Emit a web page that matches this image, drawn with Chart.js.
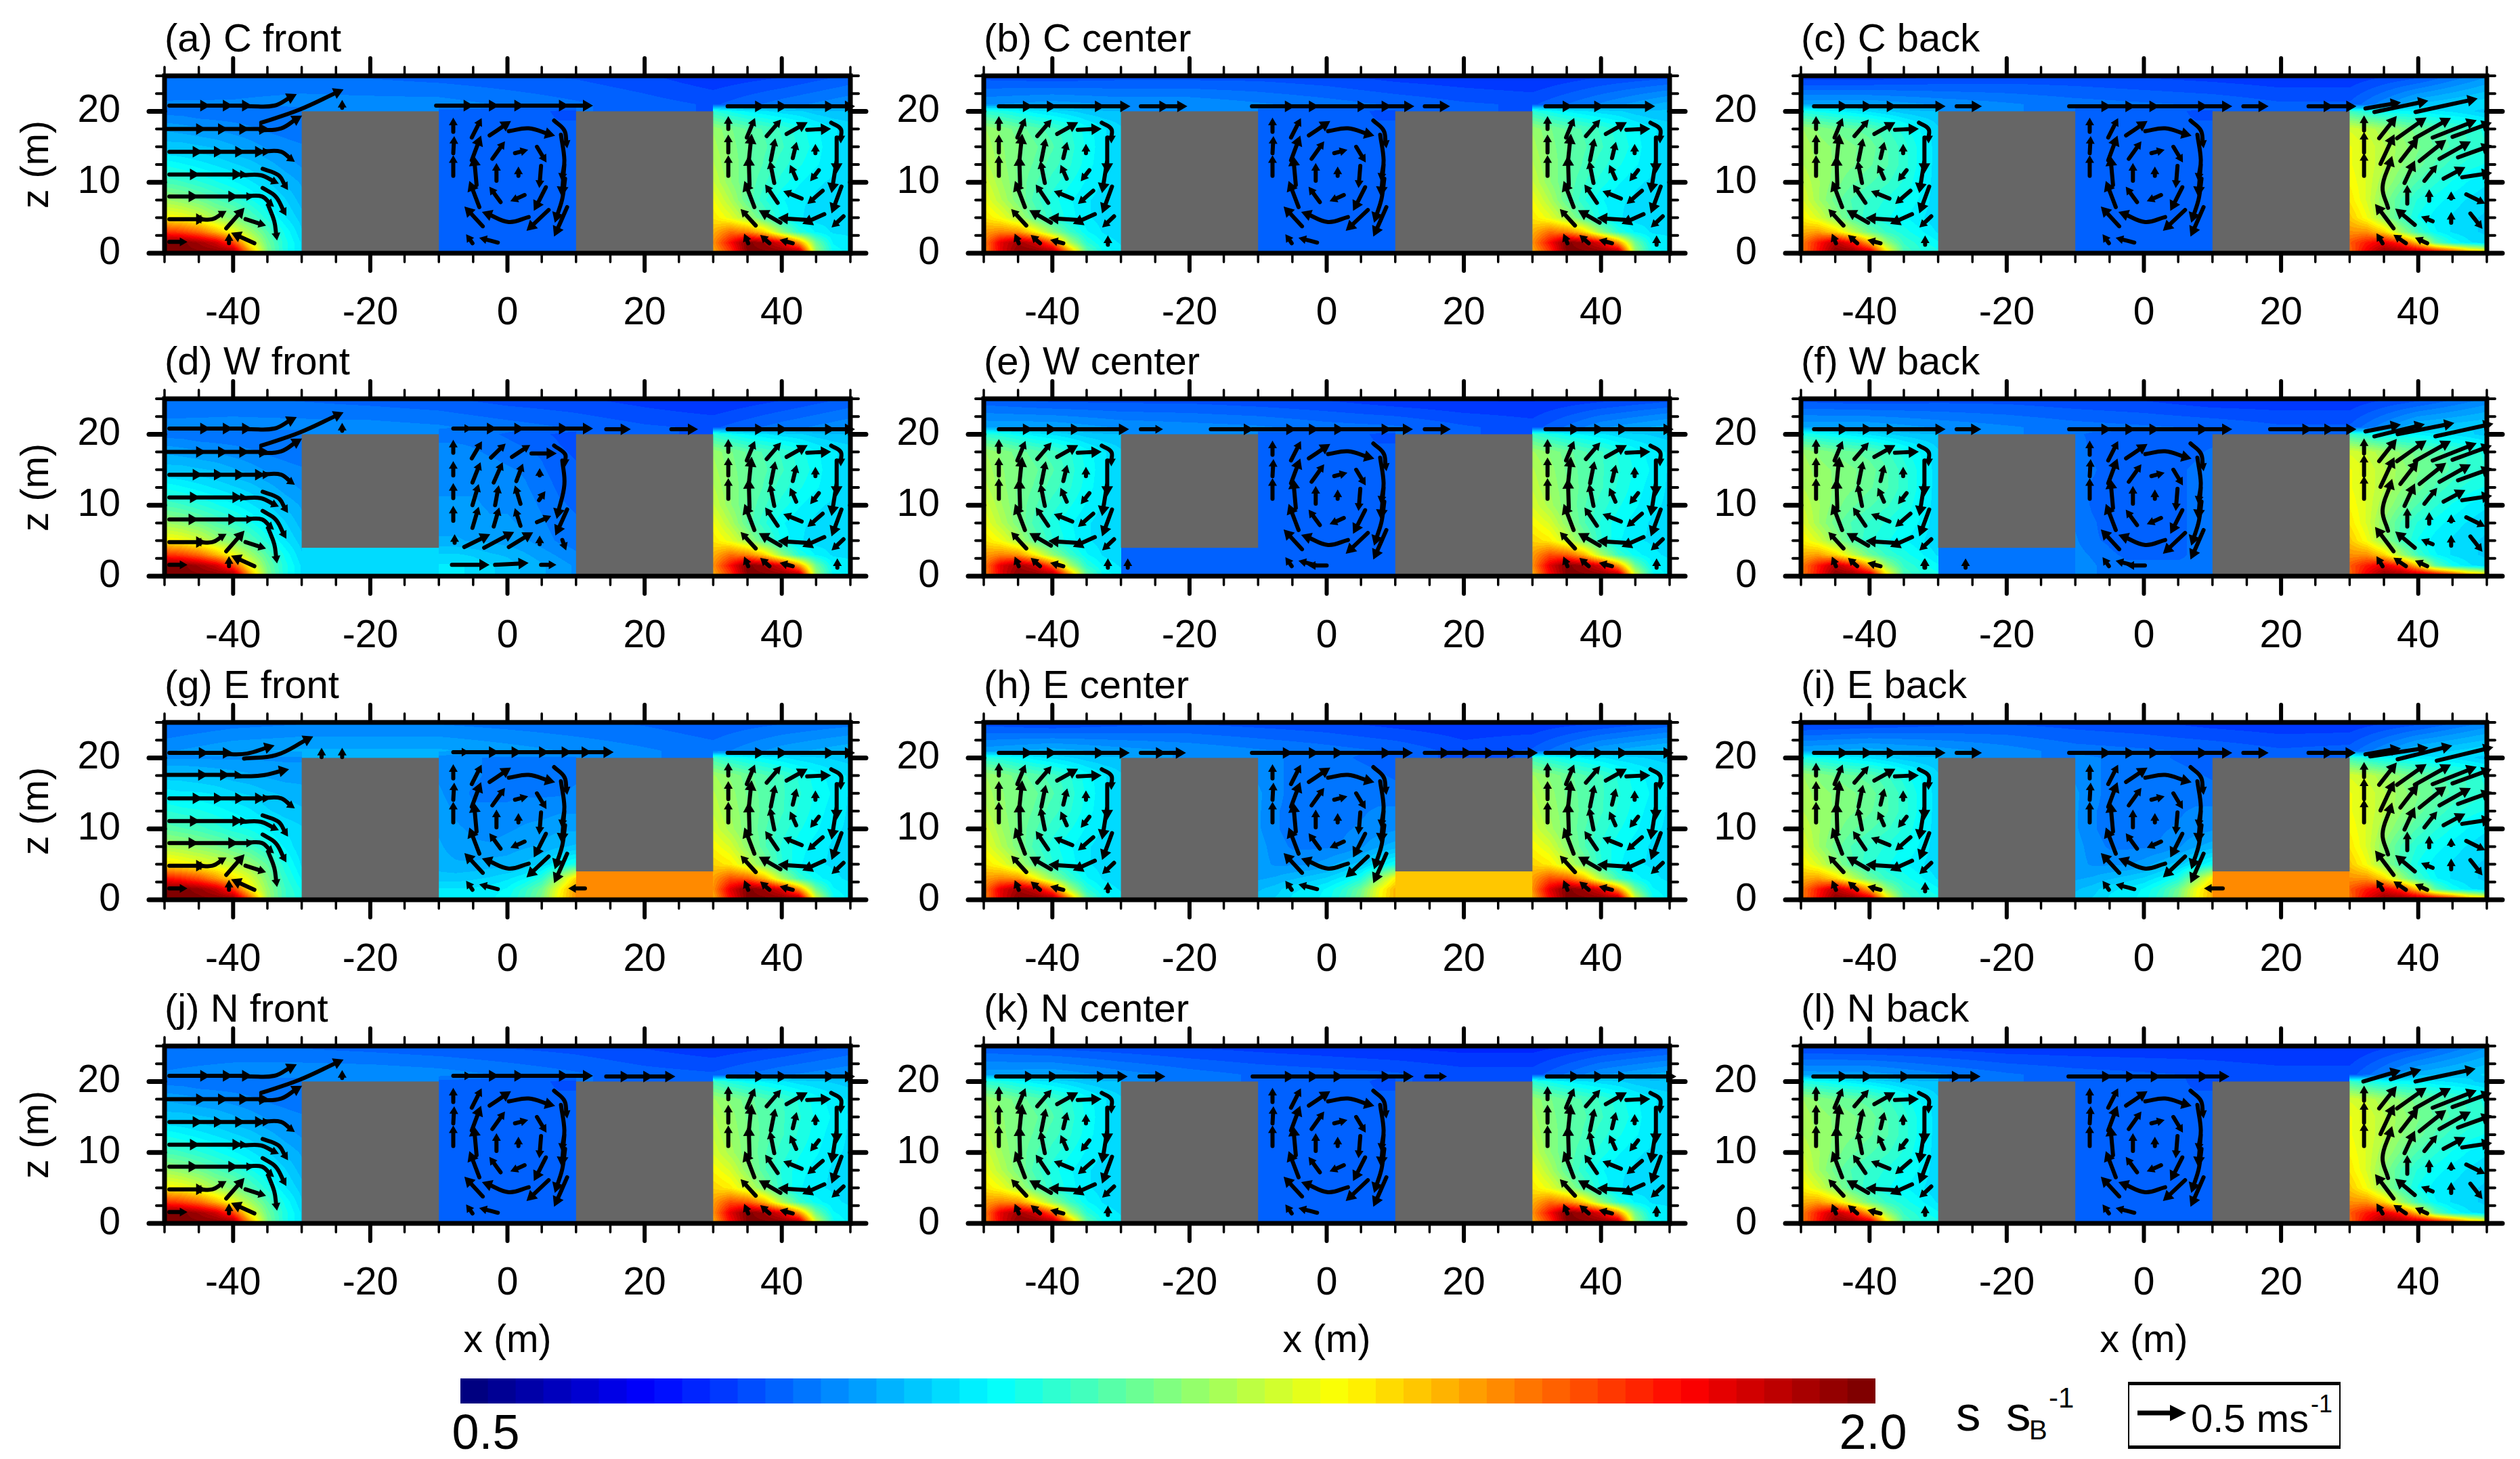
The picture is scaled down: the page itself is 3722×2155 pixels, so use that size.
<!DOCTYPE html>
<html>
<head>
<meta charset="utf-8">
<title>s/sB canyon panels</title>
<script src="https://cdn.jsdelivr.net/npm/chart.js@4"></script>
<style>
    html, body { margin: 0; background: #fff; }
    #page { position: relative; width: 3722px; height: 2155px; overflow: hidden; font-family: "Liberation Sans", sans-serif; color: #000; }
    canvas { position: absolute; }
    .txt { position: absolute; line-height: 1; white-space: pre; }
    #arrowBox { position: absolute; left: 3143px; top: 2041px; width: 310px; height: 89px; border: solid #000; border-width: 5px 2px; }
</style>
</head>
<body>
<div id="page">
    <div class="txt" style="left:2889px;top:2051px;font-size:73px">s</div>
    <div class="txt" style="left:2963px;top:2051px;font-size:73px">s</div>
    <div class="txt" style="left:2997px;top:2092px;font-size:40px">B</div>
    <div class="txt" style="left:3026px;top:2044px;font-size:42px">-1</div>
    <div id="arrowBox"></div>
    <svg style="position:absolute;left:3155px;top:2070px" width="76" height="36"><path d="M2 17H58" stroke="#000" stroke-width="7"/><path d="M50 5L74 17L50 29Z" fill="#000"/></svg>
    <div class="txt" style="left:3236px;top:2066px;font-size:58px">0.5 ms</div>
    <div class="txt" style="left:3413px;top:2056px;font-size:36px">-1</div>
</div>
<script>
// panel labels, row by row
const panelTitles = ["(a) C front", "(b) C center", "(c) C back", "(d) W front", "(e) W center", "(f) W back",
    "(g) E front", "(h) E center", "(i) E back", "(j) N front", "(k) N center", "(l) N back"];

const xMajorTicks = [-40, -20, 0, 20, 40];
const xMinorTicks = [-50, -45, -35, -30, -25, -15, -10, -5, 5, 10, 15, 25, 30, 35, 45, 50];
const zMajorTicks = [0, 10, 20];
const zMinorTicks = [2.5, 5, 7.5, 12.5, 15, 17.5, 22.5, 25];

// colour bar levels
const colorLevels = [0.50, 0.53, 0.56, 0.59, 0.62, 0.65, 0.68, 0.71, 0.74, 0.77, 0.80, 0.83, 0.86, 0.89, 0.92, 0.95, 0.98,
    1.01, 1.04, 1.07, 1.10, 1.13, 1.16, 1.19, 1.22, 1.25, 1.28, 1.31, 1.34, 1.37, 1.40, 1.43, 1.46, 1.49, 1.52, 1.55, 1.58,
    1.61, 1.64, 1.67, 1.70, 1.73, 1.76, 1.79, 1.82, 1.85, 1.88, 1.91, 1.94, 1.97, 2.00];

// s/sB. Rows go bottom to top at fieldZ, columns every 2.5 m across one canyon
const fieldZ = [0, 1.5, 3, 5, 7.5, 10, 12.5, 15, 17.5, 20];

const leftFront = [
    [2.0, 2.0, 2.0, 2.0, 2.0, 1.6, 1.25, 1.1, 1.02],
    [2.0, 2.0, 1.95, 1.88, 1.72, 1.42, 1.22, 1.1, 1.02],
    [1.75, 1.72, 1.66, 1.55, 1.42, 1.3, 1.18, 1.08, 1.0],
    [1.45, 1.43, 1.38, 1.3, 1.25, 1.18, 1.1, 1.03, 0.98],
    [1.3, 1.27, 1.23, 1.18, 1.14, 1.09, 1.04, 1.0, 0.95],
    [1.17, 1.15, 1.12, 1.09, 1.06, 1.03, 1.0, 0.96, 0.93],
    [1.08, 1.06, 1.04, 1.02, 1.0, 0.98, 0.95, 0.92, 0.9],
    [0.98, 0.98, 0.97, 0.96, 0.94, 0.92, 0.9, 0.89, 0.88],
    [0.93, 0.92, 0.91, 0.9, 0.89, 0.88, 0.87, 0.86, 0.85],
    [0.86, 0.86, 0.85, 0.85, 0.85, 0.85, 0.85, 0.85, 0.85]
];
const leftFrontEast = [
    [2.0, 2.0, 2.0, 2.0, 2.0, 1.7, 1.3, 1.15, 1.1],
    [2.0, 2.0, 1.97, 1.9, 1.75, 1.45, 1.28, 1.15, 1.08],
    [1.8, 1.76, 1.7, 1.6, 1.48, 1.38, 1.25, 1.13, 1.05],
    [1.48, 1.45, 1.42, 1.38, 1.33, 1.28, 1.2, 1.1, 1.02],
    [1.32, 1.3, 1.27, 1.24, 1.2, 1.16, 1.1, 1.05, 1.0],
    [1.2, 1.18, 1.16, 1.13, 1.1, 1.08, 1.05, 1.02, 1.0],
    [1.12, 1.1, 1.09, 1.07, 1.05, 1.03, 1.0, 0.98, 0.97],
    [1.04, 1.03, 1.03, 1.02, 1.0, 0.99, 0.97, 0.96, 0.95],
    [0.98, 0.98, 0.97, 0.96, 0.95, 0.94, 0.93, 0.92, 0.92],
    [0.9, 0.9, 0.9, 0.9, 0.9, 0.9, 0.9, 0.9, 0.9]
];
const leftCenter = [
    [1.6, 1.85, 2.0, 2.0, 2.0, 1.65, 1.22, 1.08, 1.04],
    [1.62, 1.85, 1.95, 1.88, 1.68, 1.32, 1.12, 1.05, 1.02],
    [1.58, 1.62, 1.6, 1.45, 1.28, 1.15, 1.06, 1.02, 1.0],
    [1.48, 1.42, 1.32, 1.2, 1.12, 1.07, 1.03, 1.01, 1.0],
    [1.42, 1.33, 1.24, 1.16, 1.1, 1.06, 1.03, 1.01, 1.0],
    [1.38, 1.3, 1.23, 1.18, 1.13, 1.09, 1.05, 1.02, 1.0],
    [1.34, 1.28, 1.23, 1.2, 1.16, 1.12, 1.07, 1.03, 1.0],
    [1.32, 1.27, 1.24, 1.21, 1.18, 1.13, 1.08, 1.03, 1.0],
    [1.3, 1.26, 1.22, 1.19, 1.16, 1.12, 1.07, 1.03, 1.0],
    [1.12, 1.1, 1.07, 1.04, 1.02, 1.0, 0.98, 0.97, 0.97]
];
const leftBack = [
    [1.62, 1.8, 2.0, 2.0, 1.95, 1.5, 1.18, 1.12, 1.1],
    [1.62, 1.78, 1.92, 1.8, 1.55, 1.28, 1.14, 1.1, 1.06],
    [1.55, 1.58, 1.5, 1.35, 1.22, 1.14, 1.1, 1.06, 1.02],
    [1.46, 1.38, 1.27, 1.18, 1.12, 1.09, 1.06, 1.03, 1.0],
    [1.4, 1.3, 1.22, 1.17, 1.14, 1.11, 1.08, 1.05, 1.0],
    [1.36, 1.3, 1.25, 1.21, 1.18, 1.15, 1.11, 1.06, 1.0],
    [1.33, 1.29, 1.26, 1.24, 1.21, 1.18, 1.13, 1.07, 1.0],
    [1.32, 1.28, 1.26, 1.24, 1.22, 1.18, 1.13, 1.07, 1.0],
    [1.3, 1.26, 1.23, 1.21, 1.19, 1.15, 1.1, 1.05, 1.0],
    [1.1, 1.08, 1.06, 1.04, 1.02, 1.0, 0.98, 0.97, 0.97]
];
const midCalm = [
    [0.84, 0.84, 0.84, 0.84, 0.84, 0.84, 0.84, 0.84, 0.84],
    [0.84, 0.84, 0.84, 0.84, 0.84, 0.84, 0.84, 0.84, 0.84],
    [0.84, 0.84, 0.83, 0.83, 0.83, 0.83, 0.83, 0.84, 0.84],
    [0.83, 0.83, 0.83, 0.83, 0.83, 0.83, 0.83, 0.83, 0.83],
    [0.83, 0.83, 0.82, 0.82, 0.82, 0.82, 0.82, 0.83, 0.83],
    [0.83, 0.82, 0.82, 0.82, 0.82, 0.82, 0.82, 0.82, 0.83],
    [0.83, 0.82, 0.82, 0.82, 0.82, 0.82, 0.82, 0.82, 0.83],
    [0.83, 0.83, 0.82, 0.82, 0.82, 0.82, 0.82, 0.82, 0.83],
    [0.83, 0.83, 0.83, 0.82, 0.82, 0.82, 0.82, 0.82, 0.82],
    [0.83, 0.83, 0.83, 0.82, 0.82, 0.82, 0.82, 0.81, 0.81]
];
const midWestFront = [
    [1.03, 1.03, 1.02, 1.0, 0.98, 0.96, 0.94, 0.92, 0.9],
    [1.03, 1.03, 1.02, 1.0, 0.98, 0.96, 0.94, 0.92, 0.9],
    [1.0, 1.0, 0.99, 0.97, 0.96, 0.94, 0.92, 0.9, 0.88],
    [0.94, 0.94, 0.93, 0.93, 0.92, 0.91, 0.89, 0.87, 0.86],
    [0.92, 0.92, 0.92, 0.91, 0.91, 0.9, 0.88, 0.86, 0.85],
    [0.91, 0.91, 0.91, 0.9, 0.9, 0.89, 0.87, 0.85, 0.84],
    [0.9, 0.9, 0.9, 0.9, 0.89, 0.88, 0.86, 0.84, 0.83],
    [0.9, 0.9, 0.89, 0.89, 0.88, 0.87, 0.85, 0.83, 0.82],
    [0.89, 0.89, 0.88, 0.87, 0.86, 0.85, 0.84, 0.82, 0.81],
    [0.86, 0.86, 0.86, 0.85, 0.84, 0.83, 0.82, 0.81, 0.8]
];
const midWestBack = [
    [0.9, 0.88, 0.86, 0.85, 0.85, 0.85, 0.85, 0.85, 0.85],
    [0.9, 0.88, 0.86, 0.85, 0.85, 0.85, 0.85, 0.85, 0.85],
    [0.89, 0.87, 0.85, 0.84, 0.84, 0.84, 0.84, 0.85, 0.86],
    [0.88, 0.85, 0.84, 0.83, 0.83, 0.83, 0.84, 0.85, 0.87],
    [0.87, 0.85, 0.83, 0.83, 0.83, 0.83, 0.84, 0.85, 0.87],
    [0.87, 0.84, 0.83, 0.82, 0.82, 0.83, 0.84, 0.85, 0.87],
    [0.87, 0.84, 0.83, 0.82, 0.82, 0.83, 0.84, 0.85, 0.87],
    [0.87, 0.85, 0.83, 0.83, 0.83, 0.83, 0.84, 0.85, 0.86],
    [0.86, 0.84, 0.83, 0.83, 0.83, 0.83, 0.83, 0.84, 0.85],
    [0.85, 0.84, 0.84, 0.83, 0.83, 0.83, 0.83, 0.83, 0.83]
];
const midEastFront = [
    [1.05, 1.05, 1.05, 1.05, 1.08, 1.15, 1.25, 1.45, 1.6],
    [1.03, 1.03, 1.03, 1.04, 1.06, 1.13, 1.22, 1.42, 1.6],
    [0.98, 0.98, 0.99, 1.0, 1.02, 1.05, 1.12, 1.3, 1.5],
    [0.95, 0.94, 0.94, 0.95, 0.95, 0.97, 1.0, 1.05, 1.1],
    [0.94, 0.92, 0.91, 0.91, 0.92, 0.93, 0.94, 0.96, 0.97],
    [0.93, 0.91, 0.9, 0.89, 0.9, 0.91, 0.92, 0.93, 0.93],
    [0.92, 0.9, 0.88, 0.88, 0.88, 0.89, 0.89, 0.9, 0.9],
    [0.91, 0.89, 0.87, 0.87, 0.87, 0.87, 0.87, 0.87, 0.88],
    [0.9, 0.89, 0.88, 0.87, 0.87, 0.87, 0.87, 0.87, 0.87],
    [0.89, 0.88, 0.88, 0.87, 0.87, 0.87, 0.87, 0.87, 0.87]
];
const midEastCenter = [
    [0.98, 1.0, 1.03, 1.04, 1.07, 1.14, 1.25, 1.42, 1.55],
    [0.96, 0.98, 1.02, 1.03, 1.06, 1.12, 1.22, 1.4, 1.55],
    [0.93, 0.94, 0.96, 0.98, 1.0, 1.04, 1.1, 1.27, 1.45],
    [0.92, 0.9, 0.9, 0.9, 0.92, 0.95, 0.98, 1.03, 1.08],
    [0.92, 0.89, 0.87, 0.87, 0.87, 0.88, 0.9, 0.93, 0.95],
    [0.91, 0.88, 0.86, 0.85, 0.86, 0.87, 0.88, 0.89, 0.9],
    [0.91, 0.88, 0.86, 0.85, 0.85, 0.86, 0.87, 0.88, 0.88],
    [0.91, 0.89, 0.86, 0.86, 0.86, 0.86, 0.86, 0.86, 0.86],
    [0.9, 0.88, 0.87, 0.87, 0.87, 0.87, 0.86, 0.85, 0.84],
    [0.89, 0.88, 0.87, 0.87, 0.86, 0.85, 0.84, 0.83, 0.83]
];
const rightFront = [
    [1.55, 1.72, 2.0, 2.0, 2.0, 2.0, 1.3, 1.08, 1.04],
    [1.6, 1.8, 2.0, 1.95, 1.85, 1.6, 1.22, 1.05, 1.03],
    [1.55, 1.65, 1.62, 1.5, 1.28, 1.12, 1.05, 1.02, 1.02],
    [1.47, 1.4, 1.3, 1.18, 1.08, 1.03, 1.01, 1.01, 1.01],
    [1.42, 1.32, 1.2, 1.12, 1.06, 1.03, 1.02, 1.01, 1.01],
    [1.36, 1.27, 1.2, 1.15, 1.1, 1.06, 1.03, 1.02, 1.01],
    [1.33, 1.26, 1.21, 1.17, 1.13, 1.09, 1.06, 1.03, 1.01],
    [1.31, 1.25, 1.21, 1.18, 1.15, 1.11, 1.07, 1.03, 1.01],
    [1.29, 1.24, 1.2, 1.17, 1.14, 1.1, 1.06, 1.03, 1.01],
    [1.12, 1.08, 1.05, 1.03, 1.01, 1.0, 0.98, 0.97, 0.97]
];
const rightWarm = [
    [1.55, 1.8, 2.0, 2.0, 2.0, 2.0, 1.4, 1.1, 1.04],
    [1.6, 1.85, 2.0, 1.95, 1.85, 1.6, 1.22, 1.06, 1.03],
    [1.58, 1.7, 1.68, 1.55, 1.32, 1.15, 1.07, 1.03, 1.02],
    [1.5, 1.46, 1.36, 1.24, 1.12, 1.06, 1.03, 1.02, 1.02],
    [1.44, 1.38, 1.27, 1.18, 1.11, 1.07, 1.04, 1.02, 1.02],
    [1.38, 1.31, 1.24, 1.18, 1.13, 1.09, 1.06, 1.03, 1.02],
    [1.35, 1.29, 1.24, 1.19, 1.15, 1.11, 1.07, 1.04, 1.02],
    [1.33, 1.28, 1.23, 1.19, 1.15, 1.12, 1.08, 1.05, 1.02],
    [1.3, 1.26, 1.22, 1.18, 1.15, 1.11, 1.07, 1.04, 1.02],
    [1.15, 1.1, 1.07, 1.05, 1.03, 1.01, 1.0, 0.99, 0.98]
];
const rightBack = [
    [1.65, 1.85, 2.0, 2.0, 2.0, 1.95, 1.85, 1.65, 1.55],
    [1.68, 1.78, 1.85, 1.75, 1.5, 1.2, 1.08, 1.03, 1.0],
    [1.6, 1.6, 1.5, 1.3, 1.15, 1.06, 1.02, 1.0, 0.99],
    [1.52, 1.42, 1.28, 1.16, 1.08, 1.04, 1.02, 1.0, 0.99],
    [1.47, 1.38, 1.26, 1.17, 1.11, 1.07, 1.04, 1.02, 1.0],
    [1.44, 1.38, 1.3, 1.23, 1.17, 1.12, 1.08, 1.05, 1.03],
    [1.42, 1.38, 1.33, 1.27, 1.22, 1.17, 1.13, 1.1, 1.08],
    [1.42, 1.38, 1.33, 1.28, 1.24, 1.2, 1.17, 1.14, 1.12],
    [1.38, 1.35, 1.3, 1.26, 1.22, 1.19, 1.16, 1.14, 1.1],
    [1.15, 1.1, 1.07, 1.06, 1.05, 1.03, 1.02, 1.0, 0.98]
];

// which field each panel uses, a to l
const panelLeft = [leftFront, leftCenter, leftBack, leftFront, leftCenter, leftBack, leftFrontEast, leftCenter, leftBack, leftFront, leftCenter, leftBack];
const panelMid = [midCalm, midCalm, midCalm, midWestFront, midCalm, midWestBack, midEastFront, midEastCenter, midEastCenter, midCalm, midCalm, midCalm];
const panelRight = [rightFront, rightFront, rightBack, rightFront, rightWarm, rightBack, rightWarm, rightWarm, rightBack, rightWarm, rightFront, rightBack];

// air under the raised buildings, left and right block
const underLeft = [null, null, null, 1.02, 0.83, 0.87, null, null, null, null, null, null];
const underRight = [null, null, null, null, null, null, 1.62, 1.52, 1.62, null, null, null];
// bottom of each building per panel
const leftBuildingBase = [0, 0, 0, 4, 4, 4, 0, 0, 0, 0, 0, 0];
const rightBuildingBase = [0, 0, 0, 0, 0, 0, 4, 4, 4, 0, 0, 0];

// above roof level, columns every 10 m from -50 to 50
const roofLow = [
    [0.88, 0.88, 0.89, 0.89, 0.89, 0.87, 0.85, 0.83, 0.81, 0.86, 0.9],
    [0.9, 0.92, 0.9, 0.9, 0.88, 0.86, 0.84, 0.82, 0.81, 0.88, 0.95],
    [0.93, 0.93, 0.9, 0.88, 0.86, 0.85, 0.84, 0.82, 0.82, 0.97, 1.02],
    [0.89, 0.89, 0.89, 0.89, 0.88, 0.86, 0.84, 0.82, 0.81, 0.86, 0.9],
    [0.93, 0.93, 0.9, 0.89, 0.88, 0.86, 0.85, 0.82, 0.8, 0.9, 0.95],
    [0.93, 0.93, 0.9, 0.88, 0.86, 0.85, 0.84, 0.82, 0.82, 0.97, 1.0],
    [0.9, 0.93, 0.94, 0.94, 0.94, 0.92, 0.9, 0.88, 0.86, 0.92, 0.96],
    [0.92, 0.95, 0.92, 0.9, 0.88, 0.86, 0.84, 0.8, 0.82, 0.93, 0.98],
    [0.93, 0.95, 0.92, 0.89, 0.86, 0.85, 0.84, 0.82, 0.83, 0.97, 1.02],
    [0.88, 0.9, 0.9, 0.9, 0.89, 0.87, 0.85, 0.83, 0.82, 0.87, 0.9],
    [0.92, 0.93, 0.89, 0.86, 0.84, 0.83, 0.82, 0.8, 0.8, 0.9, 0.95],
    [0.92, 0.92, 0.88, 0.85, 0.83, 0.82, 0.81, 0.8, 0.8, 0.95, 1.0]
];
const roofTop = [
    [0.84, 0.85, 0.85, 0.84, 0.83, 0.82, 0.81, 0.79, 0.76, 0.78, 0.82],
    [0.8, 0.79, 0.8, 0.8, 0.8, 0.79, 0.77, 0.76, 0.75, 0.78, 0.8],
    [0.76, 0.76, 0.78, 0.79, 0.79, 0.78, 0.77, 0.76, 0.76, 0.8, 0.9],
    [0.84, 0.85, 0.84, 0.83, 0.82, 0.8, 0.79, 0.77, 0.75, 0.78, 0.82],
    [0.82, 0.8, 0.8, 0.8, 0.79, 0.78, 0.76, 0.75, 0.75, 0.77, 0.8],
    [0.8, 0.79, 0.8, 0.8, 0.79, 0.78, 0.76, 0.76, 0.76, 0.8, 0.88],
    [0.84, 0.86, 0.87, 0.87, 0.87, 0.86, 0.85, 0.84, 0.82, 0.84, 0.86],
    [0.8, 0.78, 0.8, 0.81, 0.8, 0.79, 0.77, 0.76, 0.76, 0.78, 0.82],
    [0.77, 0.78, 0.8, 0.81, 0.8, 0.79, 0.77, 0.76, 0.76, 0.8, 0.88],
    [0.84, 0.84, 0.84, 0.83, 0.82, 0.81, 0.8, 0.78, 0.76, 0.78, 0.82],
    [0.82, 0.8, 0.79, 0.78, 0.77, 0.76, 0.75, 0.74, 0.74, 0.77, 0.8],
    [0.78, 0.77, 0.77, 0.76, 0.76, 0.76, 0.76, 0.75, 0.75, 0.8, 0.9]
];

// wind arrows as x,z polylines relative to the canyon centre, head at the last point
const midVortex = [
    [-7.9, 17.1, -7.9, 18.4], [-5.2, 16.3, -4.1, 18.4], [-2.6, 16.6, -0.3, 18.1], [0.2, 17.2, 3.1, 17.6, 6, 16.8], [6.8, 18.7, 8.3, 17.3, 8.6, 15.5],
    [-7.9, 14.1, -7.8, 15.8], [-5.2, 13.1, -4.2, 15.7], [-2.2, 13.3, -0.8, 15.2], [1.1, 14.1, 2.3, 14.4], [4.3, 15, 5.3, 13.4], [7.8, 16.7, 8.3, 13.1, 8, 10.9],
    [-7.9, 10.9, -7.9, 13.1], [-4.5, 9.6, -4.8, 12.8], [-1.6, 10.2, -1.6, 12], [1.6, 10.9, 1.6, 11.5], [4.9, 12.3, 4.7, 9.9], [8.3, 12.5, 8, 8.9],
    [-4.1, 6.5, -5.2, 9.3], [-1, 7.2, -2.2, 8.8], [2.5, 8.2, 1.1, 7.6], [5.6, 9.3, 4.3, 6.8], [8.4, 10.5, 8, 7.7, 7.2, 5.2],
    [-3.6, 3.8, -5.6, 5.9], [3.1, 5.1, 0.2, 4.4, -2.8, 5.5], [6, 6.1, 3.5, 3.8], [8.7, 6.5, 7.2, 3.2],
    [-5.1, 1.4, -5.6, 2.1], [-1.4, 1.5, -3.4, 2]
];
const midVortexWest = [
    [-7.9, 17.4, -7.9, 18.5], [-5.2, 16.6, -4.1, 18.4], [-2.4, 16.7, -0.8, 18.2], [0.65, 16.8, 2.7, 18.1], [3.5, 17.3, 6.2, 17.3], [6.8, 18.4, 8.4, 17.2, 8.4, 16.1],
    [-7.9, 14.2, -7.9, 15.5], [-5.1, 13.2, -4.2, 15.4], [-2, 13.2, -1, 15.4], [1.3, 13.4, 2, 15.2], [4.7, 14.2, 4.7, 14.5], [8, 16.3, 8.3, 12.9, 7.4, 9],
    [-7.9, 11, -7.9, 12.4], [-5.1, 10, -4.4, 12.3], [-1.8, 10, -1.4, 12.1], [1.9, 10.2, 1.3, 12.1], [4.6, 10.7, 5.1, 11.4],
    [-7.9, 7.8, -7.9, 9.2], [-5.1, 6.8, -4.4, 9.1], [-2, 7, -1.4, 9], [1.9, 7.1, 1.3, 8.9], [4.3, 7.6, 5.7, 8.2], [8.7, 9.4, 7.4, 6.6],
    [-7.7, 4.7, -7.7, 5.2], [-6.3, 4.1, -3.4, 5.5], [-3.4, 4, 0.1, 5.8], [0.2, 4.1, 2.9, 5.7], [4.7, 4.5, 4.7, 5], [8, 5.1, 8.3, 4.3],
    [-8.1, 1.6, -3.6, 1.6], [-1.8, 1.6, 2.1, 1.8], [4.9, 1.6, 6.4, 1.6]
];
const sideVortex = [
    [-7.8, 17.5, -7.8, 18.6], [-5.1, 16.3, -4.2, 18.4], [-2.2, 16.5, -0.6, 18.3], [0.7, 16.8, 2.9, 18], [3.7, 17.4, 6.2, 17.5], [7.2, 18.4, 8.6, 17.5, 8.6, 16.2],
    [-7.8, 14.2, -7.8, 16], [-4.8, 13.1, -4.5, 15.9], [-1.6, 13.1, -1.1, 15.5], [1.6, 13.4, 2, 15], [4.9, 14.1, 4.9, 14.7], [8, 16.3, 8, 12.2],
    [-7.8, 10.9, -7.8, 13.1], [-4.7, 9.6, -4.8, 12.8], [-1.1, 9.9, -1.6, 12.3], [2.1, 10.5, 1.5, 11.8], [5.4, 11.7, 4.6, 10.7], [8, 13.1, 7.4, 9.4],
    [-4, 6.5, -5.1, 9.3], [-0.6, 7.1, -2, 9.1], [2.9, 7.7, 0.9, 8.5], [5.96, 8.8, 4.3, 7.4], [8.7, 9.4, 7.6, 6.5],
    [-3.8, 3.9, -5.5, 5.7], [-0.2, 4.3, -2.5, 5.6], [3.5, 4.7, 0.4, 4.9], [6.2, 5.5, 3.9, 4.5], [9, 5.2, 7.8, 4.1],
    [-4.9, 1.4, -5.2, 2.1], [-1.8, 1.4, -2.6, 2.1], [1.6, 1.4, 0.4, 1.7]
];
const sideVortexBack = [
    [-7.9, 17.3, -7.9, 18.7], [-5.7, 16.2, -3.75, 18.6], [-3.1, 16.2, 0.4, 18.6], [-0.5, 16.2, 3.9, 18.6], [2.1, 16.3, 7.6, 18.4], [5, 16.4, 9.8, 18.1],
    [-7.9, 14.2, -7.9, 16.4], [-5.5, 12.6, -3.9, 15.9], [-2.6, 13, -0.6, 15.5], [0.2, 13, 3.3, 15.4], [3.1, 13.3, 6.8, 15.3], [5.8, 13.5, 9.8, 14.9],
    [-7.9, 10.9, -7.9, 13.4], [-4.4, 6.4, -5.2, 9.3, -4.1, 12.8], [-2, 9.9, -0.9, 12.2], [0.9, 10.2, 2.3, 11.9], [3.7, 10.5, 6, 11.7], [6.4, 10.7, 9.8, 11.2],
    [-1.6, 7, -1.6, 8.9], [1.6, 7.4, 1.6, 8.3], [4.8, 7.7, 4.8, 8], [7, 8.3, 9.1, 7.3],
    [-3.6, 3.5, -5.7, 6.2], [-0.5, 4, -2.6, 5.7], [2.1, 4.5, 1.1, 4.9], [4.8, 4.3, 4.8, 5.1], [7.6, 5.6, 8.9, 4],
    [-5.2, 1.4, -5.7, 2.2], [-1.8, 1.4, -3, 2.2], [1.3, 1.4, 0.2, 1.9]
];
const cornerDot = [[8.1, 1.2, 8.1, 1.8]];

// left canyon of the front panels, absolute x
const leftFrontArrows = [
    [-35.7, 11.9, -33.4, 11, -32.4, 9.5], [-38.6, 11, -36, 11, -34, 10.1],
    [-37.7, 8.1, -35.8, 8, -34.6, 7], [-35.7, 9.2, -33.8, 8, -32.6, 5.9],
    [-45, 4.8, -43, 4.8, -41.6, 5.6], [-41, 3.5, -39, 5.7], [-38.2, 4.8, -35.9, 4.1], [-34.9, 6.8, -34, 4.5, -33.7, 2.5],
    [-40.6, 1.4, -40.6, 2.1], [-36.9, 1.4, -39.4, 2.5], [-35.3, 14.4, -33, 14.3, -31.6, 13.3]
];
const leftFrontStreams = [
    [14.3, -49.3, -45.4, -42.3, -39.2, -36.3, -35.3],
    [11.1, -49.3, -45.8, -39.6, -38.6],
    [8, -49.3, -46, -40.2, -37.7],
    [4.8, -49.3, -44.9, -45]
];
const leftTopC = [[-37.7, 20.7, -34, 20.8, -31.6, 22], [-35.9, 18.4, -30.4, 20.2, -24.8, 22.7], [-24.1, 20.5, -24.1, 20.9], [-36, 17.3, -33, 17.6, -30.8, 18.9], [-49.3, 1.6, -47.4, 1.6]];
const leftTopCStreams = [[20.8, -49.3, -44.3, -41, -38.2], [17.5, -50, -44.9, -41.7, -38.6, -35.7]];
const leftTopE = [[-41, 20.5, -38, 20.6, -34.9, 21.5], [-38.4, 19.9, -33.7, 20.4, -29.2, 22.6], [-27.1, 20.1, -27.1, 20.7], [-24.1, 20.1, -24.1, 20.7], [-39.4, 17.4, -36, 17.5, -32.8, 18.2], [-49.3, 1.6, -47.4, 1.6]];
const leftTopEStreams = [[20.7, -49.3, -44.5, -41], [17.6, -50, -44.6, -41.4, -39.4]];

// roof level streams per panel: z first, then x of the tail and of each head
const roofStreams = [
    [[20.8, -10.4, -5.9, -2.2, 1.5, 8, 11.5], [20.7, 32.1, 36.6, 39.9, 46.8, 49.7]],
    [[20.7, -47.8, -43.8, -40.3, -33.3, -29.6], [20.7, -27.1, -23.9, -21.3], [20.7, -10.9, -5.6, -2.1, 5, 8.5, 11.8], [20.7, 14.3, 17], [20.7, 31.9, 34.9, 39.5, 46.9]],
    [[20.7, -48.1, -44, -40.5, -37, -29.9], [20.7, -27.3, -24.6], [20.7, -10.9, -5.7, -2.2, 1.3, 8.4, 11.9], [20.7, 14.5, 17.2], [20.7, 24, 26.7, 30]],
    [[20.8, -7.9, -5.9, -2.5, 1.5, 8, 11.5], [20.7, 14.4, 17], [20.7, 23.9, 26.8], [20.7, 32.1, 36.6, 39.9, 46.8, 49.7]],
    [[20.7, -47.8, -43.8, -40.3, -36.8, -29.8], [20.7, -27.1, -24.6], [20.7, -16.9, -11.6], [20.7, -10.9, -5.4, -2.1, 1.6, 8.5, 11.6], [20.7, 14.3, 17.1], [20.7, 31.9, 36, 39.5, 43, 49.6]],
    [[20.7, -48.1, -44, -40.5, -37, -29.9], [20.7, -27.3, -24.7], [20.7, -10.9, -5.7, -2.2, 1.3, 8.4, 11.9], [20.7, 18.4, 23.6, 26.8, 30]],
    [[20.8, -7.9, -6.3, -2.2, 1.1, 5.1, 8.4, 11.3, 14.5], [20.7, 32.1, 36.6, 39.9, 46.8, 49.7]],
    [[20.7, -47.8, -43.8, -40.3, -33.3, -29.7], [20.7, -27.1, -24.4, -21.5], [20.7, -10.9, -5.9, -2.1, 1.5, 8.5, 11.6], [20.7, 14.3, 17.1, 20.3, 23.6, 26.8, 29.8], [20.7, 31.9, 36, 39.5, 43, 49.6]],
    [[20.7, -48.1, -44, -40.5, -37, -29.9], [20.7, -27.3, -24.6], [20.7, -10.9, -5.7, -2.2, 1.3, 8.4, 11.9], [20.7, 14.5, 17.2], [20.7, 24, 26.7, 29.9]],
    [[20.8, -7.9, -5.9, -2.2, 1.5, 8, 11.5], [20.7, 14.4, 17, 20.3, 23.5], [20.7, 32.1, 36.6, 39.9, 46.8, 49.7]],
    [[20.7, -48.2, -43.5, -40, -33, -30], [20.7, -27.3, -24.5], [20.7, -10.8, -5.6, -2.1, 1.5, 8.5, 11.7], [20.7, 14.5, 16.8], [20.7, 32.1, 36, 39.5, 43, 50]],
    [[20.7, -48.2, -44, -40.5, -35, -27.5, -24.8], [20.7, -11, -5.6, -2.1, 1.5, 8.5, 11.5]]
];

// one-off arrows per panel, absolute x
const panelExtras = [
    [],
    [],
    [[32.3, 20.4, 36.5, 21.1], [33.6, 19.9, 40.5, 21.3], [39.6, 19.9, 47.7, 21.6]],
    [],
    [[-29, 1.2, -29, 1.8], [0, 1.5, -2, 1.5]],
    [[-32, 1.2, -32, 1.8], [-26, 1.2, -26, 1.8], [0.15, 1.5, -1.8, 1.5], [32.3, 20.4, 36.5, 21.2], [33.6, 19.7, 40, 21.2], [37, 20, 44.3, 21.4], [42.5, 19.7, 50, 21.3]],
    [[11.3, 1.6, 9.6, 1.6]],
    [],
    [[11.5, 1.6, 9.5, 1.6], [32.3, 20.5, 36.5, 21.2], [33, 20.2, 40.5, 21.3], [37, 19.8, 44, 21.5], [42.7, 19.6, 50, 21.3]],
    [],
    [],
    [[32, 20, 36.5, 21.3], [36, 20.3, 39.5, 21.4], [39.6, 20, 47.4, 21.6]]
];

// layout in page pixels
const colLeft = [243, 1453, 2660];
const rowTop = [112, 589, 1067, 1545];
const plotW = 1013, plotH = 262;
const axisFont = { family: "'Liberation Sans', sans-serif", size: 57, lineHeight: 1 };

Chart.defaults.color = "#000";
Chart.defaults.font.family = axisFont.family;

function jetColor(f) {
    const c = v => Math.round(255 * Math.min(1, Math.max(0, 1.5 - Math.abs(v))));
    return [c(4 * f - 3), c(4 * f - 2), c(4 * f - 1)];
}

function levelColor(v) {
    const idx = Math.min(50, Math.max(0, Math.round((v - 0.5) / 0.03)));
    return jetColor(idx / 50);
}

function lerpRow(row, t) {
    const i = Math.min(row.length - 2, Math.max(0, Math.floor(t)));
    return row[i] + (row[i + 1] - row[i]) * (t - i);
}

function canyonValue(field, x0, x, z) {
    let j = fieldZ.length - 2;
    while (j > 0 && fieldZ[j] > z) j--;
    const t = (x - x0) / 2.5;
    const a = lerpRow(field[j], t), b = lerpRow(field[j + 1], t);
    return a + (b - a) * (z - fieldZ[j]) / (fieldZ[j + 1] - fieldZ[j]);
}

function heatValue(i, x, z) {
    const low = lerpRow(roofLow[i], (x + 50) / 10);
    if (z >= 21) {
        const top = lerpRow(roofTop[i], (x + 50) / 10);
        return low + (top - low) * (z - 21) / 4;
    }
    let inner = null;
    if (x <= -30) inner = canyonValue(panelLeft[i], -50, x, Math.min(z, 20));
    else if (x >= -10 && x <= 10) inner = canyonValue(panelMid[i], -10, x, Math.min(z, 20));
    else if (x >= 30) inner = canyonValue(panelRight[i], 30, x, Math.min(z, 20));
    else if (x < 0 && underLeft[i] !== null && z < 5) return underLeft[i];
    else if (x > 0 && underRight[i] !== null && z < 5) return underRight[i];
    if (z >= 20) {
        const base = inner === null ? low : inner;
        return base + (low - base) * (z - 20);
    }
    return inner === null ? low : inner;
}

// heat field and buildings go under the arrows
const fieldPlugin = {
    id: "field",
    beforeDatasetsDraw(chart, args, opts) {
        const { ctx, chartArea: area, scales } = chart;
        const w = Math.ceil(area.width), h = Math.ceil(area.height);
        const off = document.createElement("canvas");
        off.width = w;
        off.height = h;
        const octx = off.getContext("2d");
        const img = octx.createImageData(w, h);
        for (let py = 0; py < h; py++) {
            const z = scales.y.getValueForPixel(area.top + py + 0.5);
            for (let px = 0; px < w; px++) {
                const x = scales.x.getValueForPixel(area.left + px + 0.5);
                const rgb = levelColor(heatValue(opts.index, x, z));
                const k = (py * w + px) * 4;
                img.data[k] = rgb[0];
                img.data[k + 1] = rgb[1];
                img.data[k + 2] = rgb[2];
                img.data[k + 3] = 255;
            }
        }
        octx.putImageData(img, 0, 0);
        ctx.drawImage(off, area.left, area.top);

        ctx.fillStyle = "#666666";
        [[-30, -10, leftBuildingBase[opts.index]], [10, 30, rightBuildingBase[opts.index]]].forEach(b => {
            const x0 = scales.x.getPixelForValue(b[0]), x1 = scales.x.getPixelForValue(b[1]);
            const y0 = scales.y.getPixelForValue(20), y1 = scales.y.getPixelForValue(b[2]);
            ctx.fillRect(x0, y0, x1 - x0, y1 - y0);
        });
    }
};

// frame and outward ticks on all four sides
const framePlugin = {
    id: "frame",
    afterDatasetsDraw(chart) {
        const { ctx, chartArea: area, scales } = chart;
        ctx.save();
        ctx.strokeStyle = "#000";
        ctx.lineCap = "round";
        const line = (x0, y0, x1, y1, lw) => {
            ctx.lineWidth = lw;
            ctx.beginPath();
            ctx.moveTo(x0, y0);
            ctx.lineTo(x1, y1);
            ctx.stroke();
        };
        const xTicks = (list, len, lw) => list.forEach(v => {
            const p = scales.x.getPixelForValue(v);
            line(p, area.bottom, p, area.bottom + len, lw);
            line(p, area.top, p, area.top - len, lw);
        });
        const zTicks = (list, len, lw) => list.forEach(v => {
            const p = scales.y.getPixelForValue(v);
            line(area.left, p, area.left - len, p, lw);
            line(area.right, p, area.right + len, p, lw);
        });
        xTicks(xMajorTicks, 26, 6);
        xTicks(xMinorTicks, 13, 3.5);
        zTicks(zMajorTicks, 23, 7);
        zTicks(zMinorTicks, 12, 4);
        ctx.lineCap = "butt";
        ctx.lineWidth = 7;
        ctx.strokeRect(area.left, area.top, area.right - area.left, area.bottom - area.top);
        ctx.restore();
    }
};

function panelArrows(i) {
    const out = [];
    const add = (list, dx) => list.forEach(a => {
        out.push(a.map((v, k) => (k % 2 === 0 ? v + dx : v)));
    });
    const addStreams = list => list.forEach(s => {
        for (let k = 1; k < s.length - 1; k++) out.push([s[k], s[0], s[k + 1], s[0]]);
    });
    if (i % 3 === 0) {
        add(leftFrontArrows, 0);
        addStreams(leftFrontStreams);
        add(i === 6 ? leftTopE : leftTopC, 0);
        addStreams(i === 6 ? leftTopEStreams : leftTopCStreams);
    } else {
        add(sideVortex, -40);
        add(cornerDot, -40);
    }
    add(i === 3 ? midVortexWest : midVortex, 0);
    add(i % 3 === 2 ? sideVortexBack : sideVortex, 40);
    if (i === 1 || i === 3 || i === 4 || i === 10) add(cornerDot, 40);
    addStreams(roofStreams[i]);
    add(panelExtras[i], 0);
    return out;
}

// drop the label padding Chart.js reserves, the plot box is fixed by the page layout
function clearPadding(axis) {
    axis.paddingTop = 0;
    axis.paddingBottom = 0;
    axis.paddingLeft = 0;
    axis.paddingRight = 0;
}

function makePanel(i) {
    const col = i % 3, row = Math.floor(i / 3);
    const axisH = row === 3 ? 203 : 125;
    const canvas = document.createElement("canvas");
    canvas.width = 240 + plotW + 40;
    canvas.height = 80 + plotH + axisH;
    canvas.style.left = (colLeft[col] - 240) + "px";
    canvas.style.top = (rowTop[row] - 80) + "px";
    document.getElementById("page").appendChild(canvas);

    const shafts = [], heads = [];
    panelArrows(i).forEach(a => {
        for (let k = 0; k < a.length; k += 2) shafts.push({ x: a[k], y: a[k + 1] });
        shafts.push({ x: null, y: null });
        const n = a.length;
        const dx = a[n - 2] - a[n - 4], dz = a[n - 1] - a[n - 3];
        heads.push({ x: a[n - 2], y: a[n - 1], rot: Math.atan2(dx, dz) * 180 / Math.PI, len: Math.hypot(dx, dz) });
    });

    return new Chart(canvas, {
        type: "scatter",
        data: {
            datasets: [
                {
                    data: shafts, showLine: true, borderColor: "#000", borderWidth: 6, tension: 0.4, spanGaps: false,
                    pointRadius: 0, borderCapStyle: "round", clip: false
                },
                {
                    data: heads, showLine: false, clip: false, pointStyle: "triangle",
                    pointRotation: c => c.raw.rot,
                    pointRadius: c => (c.raw.len > 2.5 ? 10 : 7.5),
                    pointBackgroundColor: "#000", pointBorderWidth: 0
                }
            ]
        },
        options: {
            responsive: false,
            animation: false,
            devicePixelRatio: 1,
            events: [],
            layout: { padding: { right: 40 } },
            plugins: {
                legend: { display: false },
                tooltip: { enabled: false },
                title: {
                    display: true, text: panelTitles[i], align: "start", fullSize: false, color: "#000",
                    font: { ...axisFont, size: 58, weight: "normal" }, padding: { top: -1, bottom: 23 }
                },
                field: { index: i }
            },
            scales: {
                x: {
                    type: "linear", position: "bottom", min: -50, max: 50,
                    afterBuildTicks: axis => { axis.ticks = xMajorTicks.map(v => ({ value: v })); },
                    afterFit: axis => { axis.height = axisH; clearPadding(axis); },
                    grid: { display: false, drawTicks: false },
                    border: { display: false },
                    ticks: { font: axisFont, padding: 61, maxRotation: 0, autoSkip: false, callback: v => String(v) },
                    title: { display: row === 3, text: "x (m)", font: axisFont, padding: { top: 12, bottom: 0 } }
                },
                y: {
                    type: "linear", position: "left", min: 0, max: 25,
                    afterBuildTicks: axis => { axis.ticks = zMajorTicks.map(v => ({ value: v })); },
                    afterFit: axis => { axis.width = 240; clearPadding(axis); },
                    grid: { display: false, drawTicks: false },
                    border: { display: false },
                    ticks: { font: axisFont, padding: 65, autoSkip: false, callback: v => String(v) },
                    title: { display: col === 0, text: "z (m)", font: axisFont, padding: { top: 24, bottom: 0 } }
                }
            }
        },
        plugins: [fieldPlugin, framePlugin]
    });
}

panelTitles.forEach((t, i) => makePanel(i));

// colour bar
const barCanvas = document.createElement("canvas");
barCanvas.width = 2300;
barCanvas.height = 130;
barCanvas.style.left = "600px";
barCanvas.style.top = "2020px";
document.getElementById("page").appendChild(barCanvas);

new Chart(barCanvas, {
    type: "bar",
    data: {
        labels: colorLevels,
        datasets: [{
            data: colorLevels.map(() => 1),
            backgroundColor: colorLevels.map((v, i) => {
                const c = jetColor(i / 50);
                return `rgb(${c[0]},${c[1]},${c[2]})`;
            }),
            barPercentage: 1, categoryPercentage: 1, borderWidth: 0
        }]
    },
    options: {
        responsive: false,
        animation: false,
        devicePixelRatio: 1,
        events: [],
        layout: { padding: { left: 80, right: 130, top: 16 } },
        plugins: { legend: { display: false }, tooltip: { enabled: false } },
        scales: {
            x: {
                grid: { display: false, drawTicks: false },
                border: { display: false },
                afterFit: axis => { axis.height = 77; },
                ticks: {
                    font: { ...axisFont, size: 72 }, autoSkip: false, maxRotation: 0, minRotation: 0, padding: 11, labelOffset: 17,
                    callback: (v, i) => (i === 0 ? "0.5" : i === colorLevels.length - 1 ? "2.0" : "")
                }
            },
            y: { display: false, min: 0, max: 1 }
        }
    }
});
</script>
</body>
</html>
